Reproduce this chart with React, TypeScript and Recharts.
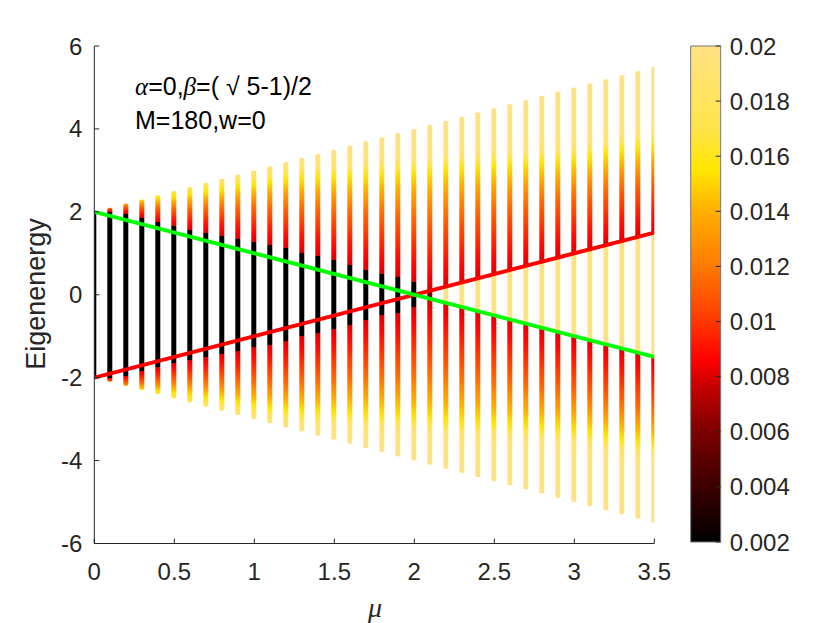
import { Bar, BarChart, Cell, ComposedChart, Customized, Line, XAxis, YAxis } from "recharts";

// one column of eigenvalues per mu
const muValues = [
  0, 0.1, 0.2, 0.3, 0.4, 0.5, 0.6, 0.7, 0.8, 0.9, 1.0, 1.1, 1.2, 1.3, 1.4, 1.5, 1.6, 1.7,
  1.8, 1.9, 2.0, 2.1, 2.2, 2.3, 2.4, 2.5, 2.6, 2.7, 2.8, 2.9, 3.0, 3.1, 3.2, 3.3, 3.4, 3.5,
];
// upper edge of the spectrum (the lower edge is its mirror)
const bandTop = [
  2.0, 2.1, 2.2, 2.3, 2.4, 2.5, 2.6, 2.7, 2.8, 2.9, 3.0, 3.1, 3.2, 3.3, 3.4, 3.5, 3.6, 3.7,
  3.8, 3.9, 4.0, 4.1, 4.2, 4.3, 4.4, 4.5, 4.6, 4.7, 4.8, 4.9, 5.0, 5.1, 5.2, 5.3, 5.4, 5.5,
];
// |E| below which the column keeps its core colour
const coreEdge = [
  2.0, 2.0, 1.95, 1.85, 1.75, 1.65, 1.57, 1.5, 1.42, 1.35, 1.27, 1.2, 1.12, 1.0, 0.93, 0.83, 0.72, 0.6,
  0.5, 0.44, 0.3, 0.15, 0.2, 0.3, 0.4, 0.5, 0.6, 0.7, 0.8, 0.9, 1.0, 1.1, 1.2, 1.3, 1.4, 1.5,
];
// colour value of the core region
const coreLevel = [
  0.002, 0.002, 0.002, 0.002, 0.002, 0.002, 0.002, 0.002, 0.002, 0.002, 0.002, 0.002, 0.002,
  0.002, 0.002, 0.002, 0.002, 0.002, 0.002, 0.002, 0.002, 0.006, 0.02, 0.02, 0.02, 0.02, 0.02,
  0.02, 0.02, 0.02, 0.02, 0.02, 0.02, 0.02, 0.02, 0.02,
];
// |E| where the column turns bright yellow
const yellowAt = [
  2.1, 2.15, 2.25, 2.3, 2.33, 2.36, 2.42, 2.48, 2.53, 2.6, 2.65, 2.72, 2.78, 2.8, 2.82, 2.83, 2.85, 2.87,
  2.9, 2.92, 2.95, 2.98, 3.02, 3.05, 3.08, 3.1, 3.13, 3.16, 3.19, 3.22, 3.26, 3.32, 3.4, 3.47, 3.53, 3.6,
];

const redLine = [
  { mu: 0, e: -2 },
  { mu: 3.5, e: 1.5 },
];
const greenLine = [
  { mu: 0, e: 2 },
  { mu: 3.5, e: -1.5 },
];

const xTicks = [0, 0.5, 1, 1.5, 2, 2.5, 3, 3.5];
const yTicks = [-6, -4, -2, 0, 2, 4, 6];
const barTicks = [0.002, 0.004, 0.006, 0.008, 0.01, 0.012, 0.014, 0.016, 0.018, 0.02];

const cmapLevels = [0.002, 0.004, 0.006, 0.0075, 0.0086, 0.01, 0.012, 0.014, 0.0155, 0.017, 0.02];
const cmapColors = [
  "#000000", "#3c0000", "#7d0000", "#c00000", "#ff0000", "#ff3800",
  "#ff7a00", "#ffaf00", "#ffe600", "#ffe44a", "#ffe283",
];

// shape of the colour ramp between core edge and the yellow point, then towards the tip
const outerFracs = [0, 0.3, 0.6, 0.8, 1];
const outerLevels = [0.008, 0.0095, 0.0115, 0.0135, 0.0155];
const paleSteps = [0, 0.3, 0.7];
const paleLevels = [0.0155, 0.019, 0.02];

const SANS = "'Liberation Sans', Arial, Helvetica, sans-serif";
const SERIF = "'Liberation Serif', 'Times New Roman', serif";
const AXIS = "#262626";

const rows = muValues.map((mu, i) => ({ mu, range: [-bandTop[i], bandTop[i]] }));

function rgb(hex: string) {
  const n = parseInt(hex.slice(1), 16);
  return [(n >> 16) & 255, (n >> 8) & 255, n & 255];
}

function interp(x: number, xs: number[], ys: number[]) {
  if (x <= xs[0]) return ys[0];
  for (let k = 1; k < xs.length; k++) {
    if (x <= xs[k]) {
      const t = (x - xs[k - 1]) / (xs[k] - xs[k - 1]);
      return ys[k - 1] + t * (ys[k] - ys[k - 1]);
    }
  }
  return ys[ys.length - 1];
}

function colorOf(level: number) {
  if (level <= cmapLevels[0]) return cmapColors[0];
  for (let k = 1; k < cmapLevels.length; k++) {
    if (level <= cmapLevels[k]) {
      const t = (level - cmapLevels[k - 1]) / (cmapLevels[k] - cmapLevels[k - 1]);
      const a = rgb(cmapColors[k - 1]);
      const b = rgb(cmapColors[k]);
      const c = a.map((v, j) => Math.round(v + t * (b[j] - v)));
      return `rgb(${c[0]},${c[1]},${c[2]})`;
    }
  }
  return cmapColors[cmapColors.length - 1];
}

function outerLevel(a: number, i: number) {
  const core = coreEdge[i];
  const y = yellowAt[i];
  if (a <= y) return interp((a - core) / Math.max(y - core, 1e-6), outerFracs, outerLevels);
  return interp(a - y, paleSteps, paleLevels);
}

function columnStops(i: number) {
  const top = bandTop[i];
  const core = coreEdge[i];
  const inside = colorOf(coreLevel[i]);
  const off = (e: number) => (top - e) / (2 * top);
  const stops: [number, string][] = [];
  if (core >= top) {
    stops.push([0, inside], [1, inside]);
    return stops;
  }
  const S = 20;
  for (let k = 0; k <= S; k++) {
    const e = top - ((top - core) * k) / S;
    stops.push([off(e), colorOf(outerLevel(e, i))]);
  }
  stops.push([off(core), inside], [off(-core), inside]);
  for (let k = 0; k <= S; k++) {
    const e = core + ((top - core) * k) / S;
    stops.push([off(-e), colorOf(outerLevel(e, i))]);
  }
  return stops;
}

function Annotations() {
  return (
    <g>
      <text x={135} y={95} fontSize={25} fill="#000" fontFamily={SANS}>
        <tspan fontFamily={SERIF} fontStyle="italic">α</tspan>=0,
        <tspan fontFamily={SERIF} fontStyle="italic">β</tspan>=( √ 5-1)/2
      </text>
      <text x={135} y={129} fontSize={25} fill="#000" fontFamily={SANS}>
        M=180,w=0
      </text>
      <text
        transform="translate(45,294) rotate(-90)"
        textAnchor="middle"
        fontSize={27}
        fill={AXIS}
        fontFamily={SANS}
      >
        Eigenenergy
      </text>
      <text x={375} y={617} textAnchor="middle" fontSize={28} fill={AXIS} fontFamily={SERIF} fontStyle="italic">
        μ
      </text>
    </g>
  );
}

const tickStyle = { fontSize: 24, fill: AXIS, fontFamily: SANS };

export default function App() {
  return (
    <div style={{ position: "absolute", left: 0, top: 0, width: 830, height: 623, background: "#fff", fontFamily: SANS }}>
      <ComposedChart
        width={830}
        height={623}
        data={rows}
        margin={{ top: 46, right: 175.7, bottom: 39.5, left: 34.3 }}
      >
        <defs>
          {rows.map((_, i) => (
            <linearGradient key={i} id={`col-${i}`} x1="0" y1="0" x2="0" y2="1">
              {columnStops(i).map(([o, c], k) => (
                <stop key={k} offset={o} stopColor={c} />
              ))}
            </linearGradient>
          ))}
        </defs>
        <XAxis
          type="number"
          dataKey="mu"
          domain={[0, 3.5]}
          ticks={xTicks}
          height={40}
          stroke={AXIS}
          tickSize={-5}
          tickMargin={24}
          tick={tickStyle}
          allowDataOverflow
        />
        <YAxis
          type="number"
          domain={[-6, 6]}
          ticks={yTicks}
          width={60}
          stroke={AXIS}
          tickSize={-5}
          tickMargin={17}
          tick={tickStyle}
          allowDataOverflow
        />
        <Bar dataKey="range" barSize={5} radius={2} isAnimationActive={false}>
          {rows.map((_, i) => (
            <Cell key={i} fill={`url(#col-${i})`} />
          ))}
        </Bar>
        <Line data={redLine} dataKey="e" stroke="#ff0000" strokeWidth={4} dot={false} isAnimationActive={false} />
        <Line data={greenLine} dataKey="e" stroke="#00ff00" strokeWidth={4} dot={false} isAnimationActive={false} />
        <Customized component={Annotations} />
      </ComposedChart>

      <div style={{ position: "absolute", left: 660, top: 0 }}>
        <BarChart
          width={140}
          height={623}
          data={[{ name: "cb", range: [0.002, 0.02] }]}
          margin={{ top: 46, right: 0, bottom: 81, left: 30.7 }}
          barCategoryGap={0}
        >
          <defs>
            <linearGradient id="cbar" x1="0" y1="0" x2="0" y2="1">
              {cmapLevels.map((lv, k) => (
                <stop key={k} offset={(0.02 - lv) / 0.018} stopColor={cmapColors[k]} />
              )).reverse()}
            </linearGradient>
          </defs>
          <XAxis dataKey="name" hide />
          <YAxis
            orientation="right"
            type="number"
            domain={[0.002, 0.02]}
            ticks={barTicks}
            width={79.3}
            axisLine={false}
            stroke={AXIS}
            tickSize={-5}
            tickMargin={14}
            tick={tickStyle}
            tickFormatter={(v: number) => String(+v.toFixed(3))}
          />
          <Bar dataKey="range" barSize={30} fill="url(#cbar)" stroke="#777" strokeWidth={1} isAnimationActive={false} />
        </BarChart>
      </div>
    </div>
  );
}
